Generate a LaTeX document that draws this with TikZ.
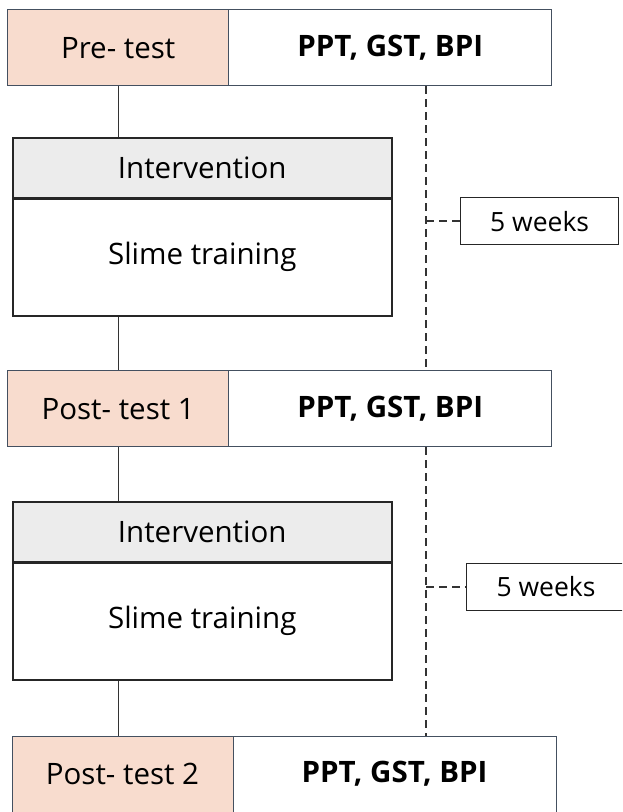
\documentclass[tikz,border=0pt]{standalone}
\usepackage{fontspec}
\setmainfont{Open Sans}
\begin{document}
\begin{tikzpicture}[x=1pt,y=-1pt,
  bigfont/.style={font=\fontsize{29.5}{34}\selectfont},
  testcell/.style={draw=testborder, line width=1.4pt, fill=peach, anchor=north west, inner sep=0pt, minimum width=221pt, minimum height=76pt, bigfont},
  meascell/.style={draw=testborder, line width=1.4pt, fill=white, anchor=north west, inner sep=0pt, minimum width=323pt, minimum height=76pt, font=\fontsize{29.5}{34}\selectfont\bfseries},
  inthead/.style={draw=black!85, line width=1.5pt, fill=headgrey, anchor=north west, inner sep=0pt, minimum width=379pt, minimum height=60pt, bigfont},
  intbody/.style={draw=black!85, line width=1.5pt, fill=white, anchor=north west, inner sep=0pt, minimum width=379pt, minimum height=118pt, bigfont},
  weekbox/.style={draw=black!85, line width=1.3pt, fill=white, anchor=north west, inner sep=0pt, minimum width=158pt, minimum height=47pt, font=\fontsize{26.5}{30}\selectfont},
  solidline/.style={draw=black!80, line width=1.4pt},
  dashline/.style={draw=black!80, line width=1.4pt, dash pattern=on 8pt off 5pt}
]
\definecolor{peach}{RGB}{248,220,206}
\definecolor{headgrey}{RGB}{236,236,236}
\definecolor{testborder}{RGB}{68,80,96}
\useasboundingbox (0,0) rectangle (622,812);
\clip (0,0) rectangle (622,812);

% row 1
\node[testcell] (pre) at (7,9) {Pre- test};
\node[meascell] (prem) at (228,9) {PPT, GST, BPI};
% intervention 1
\node[inthead] (ih1) at (12,137) {Intervention};
\node[intbody] (ib1) at (12,197) {Slime training};
\draw[line width=2.6pt, black!85] (ih1.south west) -- (ih1.south east);
% row 2
\node[testcell] (post1) at (7,370) {Post- test 1};
\node[meascell] (post1m) at (228,370) {PPT, GST, BPI};
% intervention 2
\node[inthead] (ih2) at (12,501) {Intervention};
\node[intbody] (ib2) at (12,561) {Slime training};
\draw[line width=2.6pt, black!85] (ih2.south west) -- (ih2.south east);
% row 3
\node[testcell, minimum height=90pt] (post2) at (12,736) {};
\node[meascell, minimum height=90pt] (post2m) at (233,736) {};
\node[bigfont] (post2t) at (122.5,774) {Post- test 2};
\node[font=\fontsize{29.5}{34}\selectfont\bfseries] (post2mt) at (394.5,774) {PPT, GST, BPI};

% week boxes
\node[weekbox] (w1) at (460,197) {5 weeks};
\node[weekbox, minimum width=170pt] (w2) at (466,563) {};
\node[font=\fontsize{26.5}{30}\selectfont] (w2t) at (546,587) {5 weeks};

% solid connectors
\draw[solidline] (pre.south) -- (pre.south |- ih1.north);
\draw[solidline] (pre.south |- ib1.south) -- (post1.north);
\draw[solidline] (post1.south) -- (post1.south |- ih2.north);
\draw[solidline] (post1.south |- ib2.south) -- (post1.south |- post2.north);

% dashed timeline
\coordinate (d1a) at (426,86);
\coordinate (d1b) at (426,370);
\coordinate (d2a) at (426,447);
\coordinate (d2b) at (426,736);
\draw[dashline] (d1a) -- (d1b);
\draw[dashline] (d2a) -- (d2b);
\draw[dashline] (d1a |- w1.west) -- (w1.west);
\draw[dashline] (d2a |- w2t) -- (w2.west |- w2t);
\end{tikzpicture}
\end{document}
